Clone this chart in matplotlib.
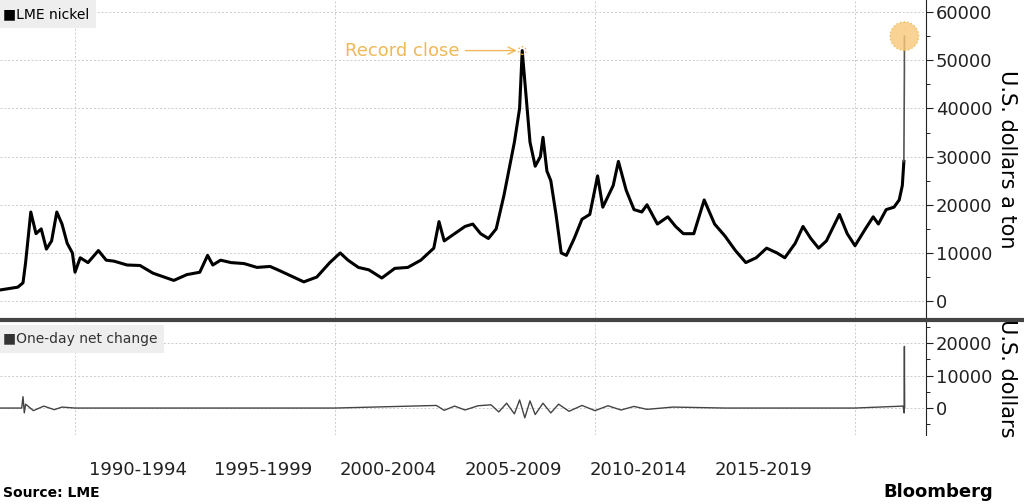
import matplotlib.pyplot as plt

# LME nickel close, USD/ton
price_t = [1987.1, 1987.8, 1988.0, 1988.1, 1988.3, 1988.5, 1988.7, 1988.9, 1989.1, 1989.3, 1989.5,
           1989.7, 1989.9, 1990.0, 1990.2, 1990.5, 1990.9, 1991.2, 1991.5, 1992.0, 1992.5, 1993.0,
           1993.8, 1994.3, 1994.8, 1995.1, 1995.3, 1995.6, 1996.0, 1996.5, 1997.0, 1997.5, 1997.8,
           1998.2, 1998.8, 1999.3, 1999.8, 2000.2, 2000.5, 2000.9, 2001.3, 2001.8, 2002.3, 2002.8,
           2003.3, 2003.8, 2004.0, 2004.2, 2004.6, 2005.0, 2005.3, 2005.6, 2005.9, 2006.2, 2006.5,
           2006.9, 2007.1, 2007.2, 2007.5, 2007.7, 2007.9, 2008.0, 2008.15, 2008.3, 2008.5, 2008.7,
           2008.9, 2009.2, 2009.5, 2009.8, 2010.1, 2010.3, 2010.7, 2010.9, 2011.2, 2011.5, 2011.8,
           2012.0, 2012.4, 2012.8, 2013.1, 2013.4, 2013.8, 2014.2, 2014.6, 2015.0, 2015.4, 2015.8,
           2016.2, 2016.6, 2017.0, 2017.3, 2017.7, 2018.0, 2018.3, 2018.6, 2018.9, 2019.4, 2019.7,
           2020.0, 2020.4, 2020.7, 2020.9, 2021.2, 2021.5, 2021.7, 2021.82, 2021.88]
price_v = [2300, 2900, 3800, 8000, 18500, 14000, 15000, 10800, 12500, 18500, 16000,
           12000, 10000, 6000, 9000, 8000, 10500, 8500, 8300, 7500, 7400, 5800,
           4300, 5500, 6000, 9500, 7500, 8500, 8000, 7800, 7000, 7200, 6500,
           5500, 4000, 5000, 8000, 10000, 8500, 7000, 6500, 4800, 6800, 7000,
           8500, 11000, 16500, 12500, 14000, 15500, 16000, 14000, 13000, 15000, 22000,
           33000, 40000, 52000, 33000, 28000, 30000, 34000, 27000, 25000, 18000, 10000,
           9500, 13000, 17000, 18000, 26000, 19500, 24000, 29000, 23000, 19000, 18500,
           20000, 16000, 17500, 15500, 14000, 14000, 21000, 16000, 13500, 10500, 8000,
           9000, 11000, 10000, 9000, 12000, 15500, 13000, 11000, 12500, 18000, 14000,
           11500, 15000, 17500, 16000, 19000, 19500, 21000, 24000, 29000]
spike_t = [2021.88, 2021.9, 2021.9]
spike_v = [29000, 48000, 55000]
record_t, record_v = 2007.2, 52000

# one-day net change, USD
chg_t = [1987.1, 1987.95, 1988.0, 1988.05, 1988.1, 1988.4, 1988.8, 1989.2, 1989.5, 1990.0,
         1995.0, 2000.0, 2003.9, 2004.2, 2004.6, 2005.0, 2005.5, 2006.0, 2006.3, 2006.6,
         2006.9, 2007.1, 2007.3, 2007.5, 2007.7, 2008.0, 2008.3, 2008.6, 2009.0, 2009.5,
         2010.0, 2010.5, 2011.0, 2011.5, 2012.0, 2013.0, 2015.0, 2020.0, 2021.85, 2021.89,
         2021.9, 2021.91]
chg_v = [0, 0, 3500, -1500, 1200, -800, 600, -500, 300, 0,
         0, 0, 800, -700, 600, -600, 700, 1000, -1200, 1500,
         -1800, 2500, -3000, 2200, -2000, 1500, -1500, 1200, -1000, 800,
         -800, 700, -600, 500, -400, 300, 0, 0, 600, -1500,
         19000, 0]

gray = "#cccccc"
fig = plt.figure(figsize=(10.24, 5.04), dpi=100)
ax = fig.add_axes([0, 1 - 318 / 504, 926 / 1024, 318 / 504])
ax2 = fig.add_axes([0, 1 - 435 / 504, 926 / 1024, 113 / 504])

ppy = 26.0
x0 = 1990 - 75 / ppy
x1 = x0 + 926 / ppy
grid_years = [1990, 2000, 2010, 2020]
periods = ["1990-1994", "1995-1999", "2000-2004", "2005-2009", "2010-2014", "2015-2019"]
for a in (ax, ax2):
    a.set_xlim(x0, x1)
    a.set_xticks(grid_years)
    a.tick_params(axis="x", length=0, labelbottom=False)
    a.grid(True, color=gray, linestyle=(0, (2, 2)), linewidth=0.7)
    a.yaxis.tick_right()
    a.yaxis.set_label_position("right")
    for s in ("top", "left", "bottom"):
        a.spines[s].set_visible(False)
    a.spines["right"].set_color("#222222")
    a.tick_params(axis="y", labelsize=13, direction="out", length=5, pad=2, colors="#222222")

ax.set_ylim(-3500, 62500)
ax.set_yticks(range(0, 60001, 10000))
ax.set_yticks(range(0, 60001, 5000), minor=True)
ax.tick_params(axis="y", which="minor", length=3)
ax.plot(price_t, price_v, color="black", lw=2.2)
ax.plot(spike_t, spike_v, color="#555555", lw=1.2)
ax.scatter([spike_t[-1]], [spike_v[-1]], s=420, color="#f7c978", alpha=0.8,
           edgecolors="#f0b040", linestyle=":", zorder=3)
ax.scatter([record_t], [record_v], s=30, facecolors="none", edgecolors="#f0b040",
           linestyle=":", zorder=3)
ax.annotate("Record close", xy=(record_t - 0.1, record_v), xytext=(2000.4, record_v),
            color="#f0b858", fontsize=13, va="center", ha="left",
            arrowprops=dict(arrowstyle="->", color="#f0b858", lw=1))
ax.set_ylabel("U.S. dollars a ton", fontsize=15, rotation=-90, labelpad=18)
ax.text(0.003, 0.955, "\u25a0LME nickel", transform=ax.transAxes, fontsize=10,
        va="center", bbox=dict(facecolor="#eeeeee", edgecolor="none", pad=5))

ax2.set_ylim(-8300, 26500)
ax2.set_yticks(range(0, 20001, 10000))
ax2.set_yticks(range(-5000, 25001, 5000), minor=True)
ax2.tick_params(axis="y", which="minor", length=3)
ax2.plot(chg_t, chg_v, color="#444444", lw=1)
ax2.set_ylabel("U.S. dollars", fontsize=15, rotation=-90, labelpad=18)
ax2.text(0.003, 0.85, "\u25a0One-day net change", transform=ax2.transAxes, fontsize=10,
         color="#333333", va="center", bbox=dict(facecolor="#eeeeee", edgecolor="none", pad=5))

fig.add_artist(plt.Line2D([0, 1], [1 - 320 / 504] * 2, color="#444444", lw=3))
for i, p in enumerate(periods):
    fig.text((138 + 125 * i) / 1024, 1 - 470 / 504, p,
             ha="center", va="center", fontsize=13, color="#222222")
fig.text(0.003, 1 - 493 / 504, "Source: LME", fontsize=10, fontweight="bold", va="center")
fig.text(0.97, 1 - 492 / 504, "Bloomberg", fontsize=13, fontweight="bold", ha="right", va="center")

fig.savefig("out.png", dpi=100)
